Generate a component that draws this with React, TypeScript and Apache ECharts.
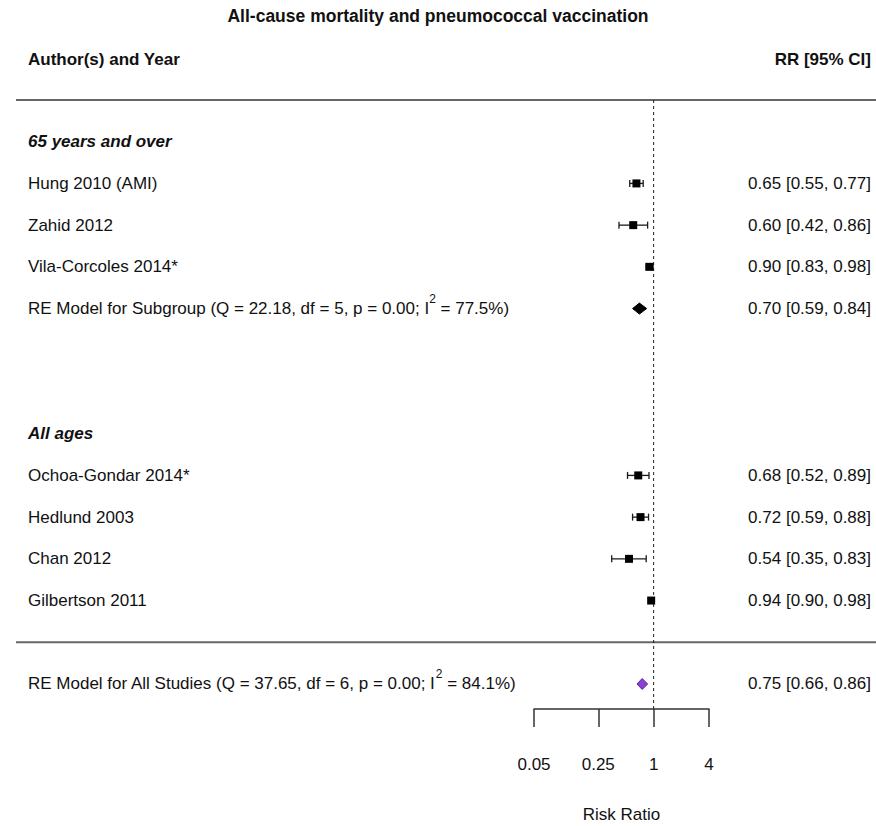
import React, { useEffect, useRef } from 'react';
import * as echarts from 'echarts';

// ---- data ----
const chartTitle = 'All-cause mortality and pneumococcal vaccination';
const leftHeader = 'Author(s) and Year';
const rightHeader = 'RR [95% CI]';
const axisName = 'Risk Ratio';

const studyNames = [
  'Hung 2010 (AMI)',
  'Zahid 2012',
  'Vila-Corcoles 2014*',
  'Ochoa-Gondar 2014*',
  'Hedlund 2003',
  'Chan 2012',
  'Gilbertson 2011',
];
const studyRR = [0.65, 0.6, 0.9, 0.68, 0.72, 0.54, 0.94];
const studyLower = [0.55, 0.42, 0.83, 0.52, 0.59, 0.35, 0.9];
const studyUpper = [0.77, 0.86, 0.98, 0.89, 0.88, 0.83, 0.98];
const studyRows = [2, 3, 4, 9, 10, 11, 12];

const groupNames = ['65 years and over', 'All ages'];
const groupRows = [1, 8];

const summaryLabels = ['Subgroup', 'All Studies'];
const summaryQ = [22.18, 37.65];
const summaryDf = [5, 6];
const summaryP = [0.0, 0.0];
const summaryI2 = [77.5, 84.1];
const summaryRR = [0.7, 0.75];
const summaryLower = [0.59, 0.66];
const summaryUpper = [0.84, 0.86];
const summaryRows = [5, 14];

const separatorRows = [0, 13];
const referenceValue = 1;

const tickValues = [0.05, 0.25, 1, 4];
const tickLabels = ['0.05', '0.25', '1', '4'];

// ---- layout / style ----
const FONT = '"Liberation Sans", Arial, Helvetica, sans-serif';
const TEXT = '#111';
const LABEL_X = 28;
const RR_RIGHT = 871;
const SEP_X0 = 16;
const SEP_X1 = 876;
const Y_MAX = 14.6;
const SQ = 8;

const fmt = (v: number) => v.toFixed(2);
const ciText = (e: number, l: number, u: number) => `${fmt(e)} [${fmt(l)}, ${fmt(u)}]`;

export default function App() {
  const ref = useRef<HTMLDivElement>(null);

  useEffect(() => {
    if (!ref.current) return;
    const chart = echarts.init(ref.current, undefined, { renderer: 'svg' });

    const studyData = studyNames.map((_, i) => [
      Math.log(studyRR[i]),
      studyRows[i],
      Math.log(studyLower[i]),
      Math.log(studyUpper[i]),
      i,
    ]);
    const summaryData = summaryLabels.map((_, i) => [
      Math.log(summaryRR[i]),
      summaryRows[i],
      Math.log(summaryLower[i]),
      Math.log(summaryUpper[i]),
      i,
    ]);
    const groupData = groupNames.map((_, i) => [0, groupRows[i], i]);
    const sepData = separatorRows.map((r) => [0, r]);

    const textEl = (text: string, x: number, y: number, extra: any = {}) => ({
      type: 'text',
      x,
      y,
      style: {
        text,
        fill: TEXT,
        fontSize: 17,
        fontFamily: FONT,
        align: 'left',
        verticalAlign: 'middle',
        ...extra,
      },
    });

    const option: any = {
      animation: false,
      backgroundColor: '#fff',
      title: [
        {
          text: chartTitle,
          left: 'center',
          top: 7,
          padding: 0,
          textStyle: { fontSize: 17.5, fontWeight: 'bold', fontFamily: FONT, color: TEXT },
        },
        {
          text: leftHeader,
          left: LABEL_X,
          top: 51,
          padding: 0,
          textStyle: { fontSize: 17, fontWeight: 'bold', fontFamily: FONT, color: TEXT },
        },
        {
          text: rightHeader,
          right: 876 - RR_RIGHT,
          top: 51,
          padding: 0,
          textStyle: { fontSize: 17, fontWeight: 'bold', fontFamily: FONT, color: TEXT },
        },
      ],
      grid: {
        left: 534,
        right: 167,
        top: 100,
        bottom: 117,
        containLabel: false,
        outerBoundsMode: 'none',
      },
      xAxis: {
        type: 'value',
        min: Math.log(tickValues[0]),
        max: Math.log(tickValues[tickValues.length - 1]),
        splitLine: { show: false },
        axisLine: { show: true, onZero: false, lineStyle: { color: '#333', width: 1.5 } },
        axisTick: {
          show: true,
          inside: false,
          length: 18,
          customValues: tickValues.map((t) => Math.log(t)),
          lineStyle: { color: '#333', width: 1.5 },
        },
        axisLabel: {
          show: true,
          customValues: tickValues.map((t) => Math.log(t)),
          margin: 47,
          fontSize: 17,
          fontFamily: FONT,
          color: TEXT,
          formatter: (v: number) => {
            const i = tickValues.findIndex((t) => Math.abs(Math.log(t) - v) < 1e-6);
            return i >= 0 ? tickLabels[i] : '';
          },
        },
        name: axisName,
        nameLocation: 'middle',
        nameGap: 97,
        nameTextStyle: { fontSize: 17, fontFamily: FONT, color: TEXT },
      },
      yAxis: {
        type: 'value',
        inverse: true,
        min: 0,
        max: Y_MAX,
        show: false,
      },
      series: [
        {
          type: 'custom',
          name: 'separators',
          clip: false,
          silent: true,
          data: sepData,
          renderItem: (params: any, api: any) => {
            const y = api.coord([0, api.value(1)])[1];
            return {
              type: 'line',
              shape: { x1: SEP_X0, y1: y, x2: SEP_X1, y2: y },
              style: { stroke: '#666', lineWidth: 2 },
            };
          },
        },
        {
          type: 'custom',
          name: 'reference',
          clip: false,
          silent: true,
          data: [[Math.log(referenceValue), 0, Y_MAX]],
          renderItem: (params: any, api: any) => {
            const a = api.coord([api.value(0), api.value(1)]);
            const b = api.coord([api.value(0), api.value(2)]);
            return {
              type: 'line',
              shape: { x1: a[0], y1: a[1], x2: b[0], y2: b[1] },
              style: { stroke: '#222', lineWidth: 1, lineDash: [3, 3] },
            };
          },
        },
        {
          type: 'custom',
          name: 'groups',
          clip: false,
          silent: true,
          data: groupData,
          renderItem: (params: any, api: any) => {
            const y = api.coord([0, api.value(1)])[1];
            return textEl(groupNames[api.value(2)], LABEL_X, y, {
              fontWeight: 'bold',
              fontStyle: 'italic',
            });
          },
        },
        {
          type: 'custom',
          name: 'studies',
          clip: false,
          silent: true,
          data: studyData,
          renderItem: (params: any, api: any) => {
            const row = api.value(1);
            const c = api.coord([api.value(0), row]);
            const l = api.coord([api.value(2), row]);
            const h = api.coord([api.value(3), row]);
            const idx = api.value(4);
            const y = c[1];
            const ls = { stroke: '#1a1a1a', lineWidth: 1.3 };
            return {
              type: 'group',
              children: [
                { type: 'line', shape: { x1: l[0], y1: y, x2: h[0], y2: y }, style: ls },
                { type: 'line', shape: { x1: l[0], y1: y - 3.5, x2: l[0], y2: y + 3.5 }, style: ls },
                { type: 'line', shape: { x1: h[0], y1: y - 3.5, x2: h[0], y2: y + 3.5 }, style: ls },
                {
                  type: 'rect',
                  shape: { x: c[0] - SQ / 2, y: y - SQ / 2, width: SQ, height: SQ },
                  style: { fill: '#000' },
                },
                textEl(studyNames[idx], LABEL_X, y),
                textEl(ciText(studyRR[idx], studyLower[idx], studyUpper[idx]), RR_RIGHT, y, {
                  align: 'right',
                }),
              ],
            };
          },
        },
        {
          type: 'custom',
          name: 'summaries',
          clip: false,
          silent: true,
          data: summaryData,
          renderItem: (params: any, api: any) => {
            const row = api.value(1);
            const c = api.coord([api.value(0), row]);
            const l = api.coord([api.value(2), row]);
            const h = api.coord([api.value(3), row]);
            const idx = api.value(4);
            const y = c[1];
            const isAll = idx === summaryLabels.length - 1;
            const hh = 5.5;
            const label = `RE Model for ${summaryLabels[idx]} (Q = ${summaryQ[idx].toFixed(2)}, df = ${summaryDf[idx]}, p = ${summaryP[idx].toFixed(2)}; I{sup|2} = ${summaryI2[idx].toFixed(1)}%)`;
            return {
              type: 'group',
              children: [
                {
                  type: 'polygon',
                  shape: {
                    points: [
                      [l[0], y],
                      [c[0], y - hh],
                      [h[0], y],
                      [c[0], y + hh],
                    ],
                  },
                  style: isAll
                    ? { fill: '#8a3fd6', stroke: '#5a2a90', lineWidth: 1 }
                    : { fill: '#000', stroke: '#000', lineWidth: 1 },
                },
                textEl(label, LABEL_X, y, {
                  rich: {
                    sup: {
                      fontSize: 12,
                      fontFamily: FONT,
                      fill: TEXT,
                      lineHeight: 31,
                      verticalAlign: 'top',
                    },
                  },
                }),
                textEl(ciText(summaryRR[idx], summaryLower[idx], summaryUpper[idx]), RR_RIGHT, y, {
                  align: 'right',
                }),
              ],
            };
          },
        },
      ],
    };

    chart.setOption(option);
    return () => chart.dispose();
  }, []);

  return (
    <div
      ref={ref}
      style={{ position: 'absolute', left: 0, top: 0, width: 876, height: 826, background: '#fff' }}
    />
  );
}
